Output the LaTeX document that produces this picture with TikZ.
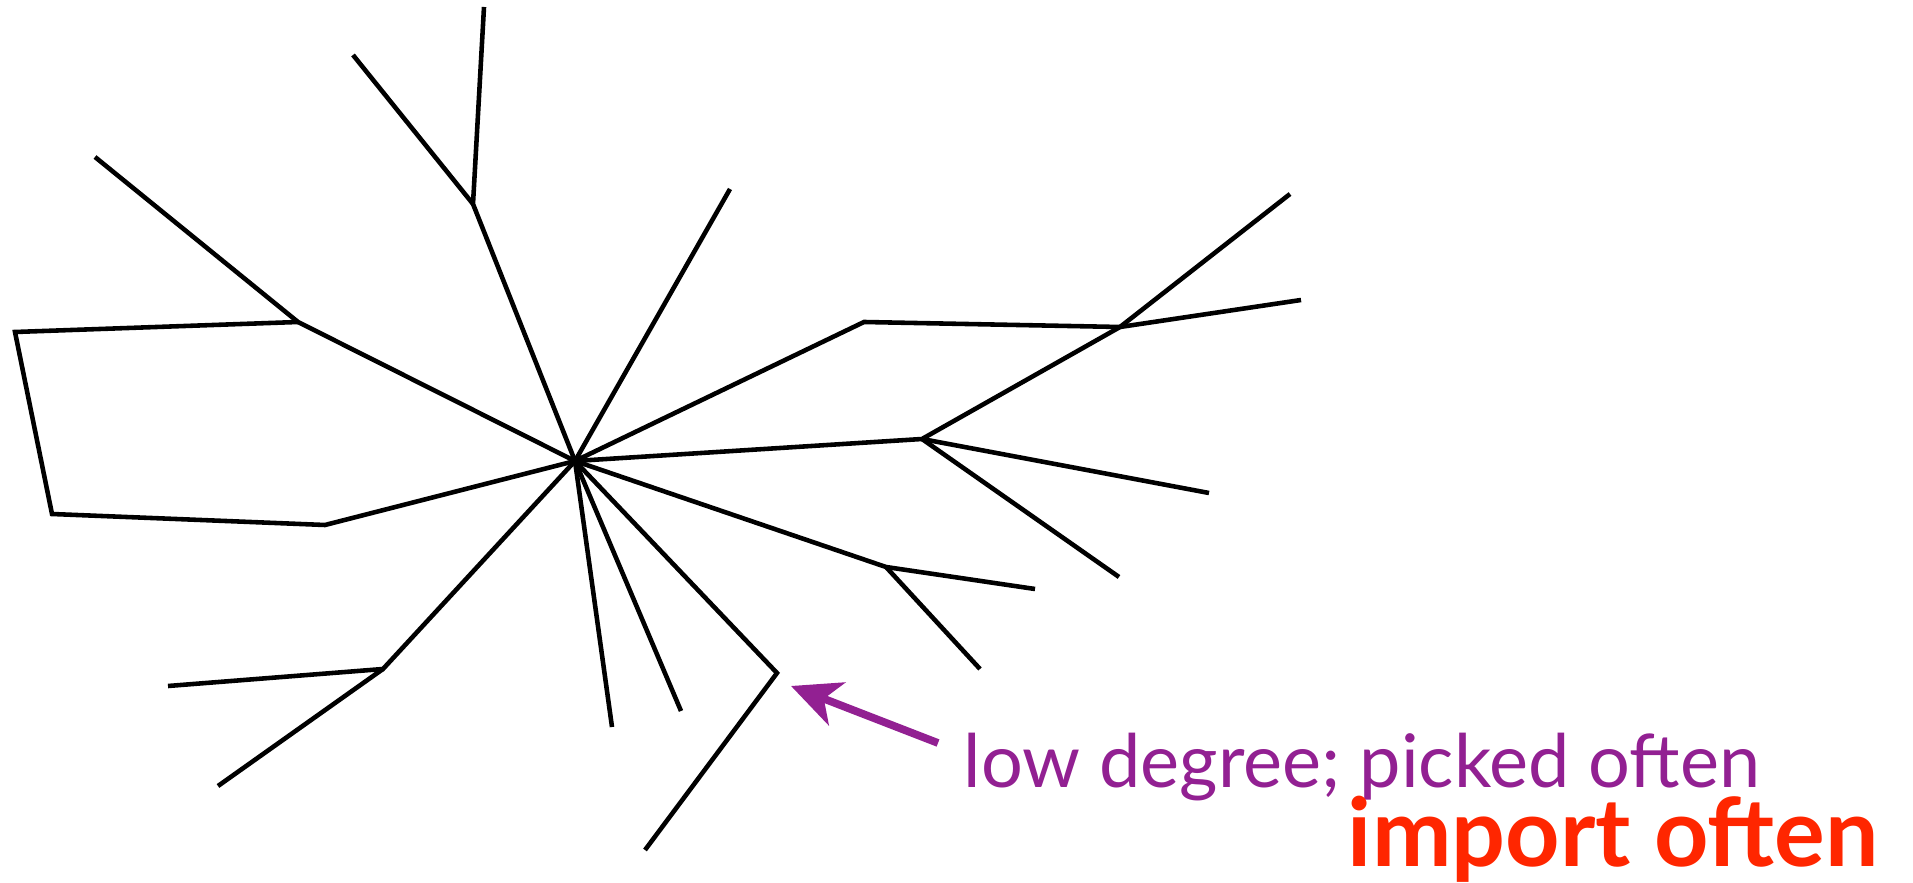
\documentclass[tikz,border=0pt]{standalone}
\usepackage{fontspec}
\usepackage{tikz}
\usetikzlibrary{arrows.meta,positioning}
\newfontfamily\lblfont{Lato}
\definecolor{pickpurple}{RGB}{146, 32,146}
\definecolor{importred} {RGB}{255, 38,  0}
\tikzset{
  edge/.style={draw=black,line width=1.3pt},
  arrp/.style={-{Stealth[length=14pt,width=13pt,inset=4pt]},line width=2.2pt,color=pickpurple},
  lowlbl/.style={anchor=base west,inner sep=0pt,font=\lblfont\fontsize{21}{24}\selectfont,text=pickpurple},
  implbl/.style={anchor=base east,inner sep=0pt,font=\lblfont\bfseries\fontsize{27}{30}\selectfont,text=importred},
}
\begin{document}
\begin{tikzpicture}[x=0.01cm,y=-0.01cm]
  \useasboundingbox (0,0) rectangle (1913,883);
  \coordinate (c)  at (575,461);
  \coordinate (j1) at (473,204);
  \coordinate (t1) at (484,7);
  \coordinate (t2) at (353,55);
  \coordinate (j2) at (298,322);
  \coordinate (l1) at (95,157);
  \coordinate (l2) at (15,332);
  \coordinate (l3) at (52,514);
  \coordinate (l4) at (325,525);
  \coordinate (u1) at (730,189);
  \coordinate (r0) at (864,322);
  \coordinate (j3) at (1120,327);
  \coordinate (r1) at (1290,194);
  \coordinate (r2) at (1301,300);
  \coordinate (j4) at (922,439);
  \coordinate (r3) at (1209,493);
  \coordinate (r4) at (1119,577);
  \coordinate (j5) at (886,567);
  \coordinate (r5) at (1035,589);
  \coordinate (r6) at (980,669);
  \coordinate (d1) at (612,727);
  \coordinate (d2) at (681,711);
  \coordinate (d3) at (777,673);
  \coordinate (d4) at (645,850);
  \coordinate (j6) at (383,669);
  \coordinate (b1) at (168,686);
  \coordinate (b2) at (218,786);

  \draw[edge] (c) -- (j1) -- (t1);
  \draw[edge] (j1) -- (t2);
  \draw[edge] (c) -- (j2) -- (l1);
  \draw[edge] (j2) -- (l2) -- (l3) -- (l4) -- (c);
  \draw[edge] (c) -- (u1);
  \draw[edge] (c) -- (r0) -- (j3) -- (r2);
  \draw[edge] (c) -- (j4) -- (j3) -- (r1);
  \draw[edge] (j4) -- (r3);
  \draw[edge] (j4) -- (r4);
  \draw[edge] (c) -- (j5) -- (r5);
  \draw[edge] (j5) -- (r6);
  \draw[edge] (c) -- (d1);
  \draw[edge] (c) -- (d2);
  \draw[edge] (c) -- (d3) -- (d4);
  \draw[edge] (c) -- (j6) -- (b1);
  \draw[edge] (j6) -- (b2);

  \node[lowlbl] (low) at (963,787) {low degree; picked often};
  \node[implbl] (imp) at (1879,866) {import often};
  \coordinate (arrs) at (938,743);
  \coordinate (arrt) at (791,686);
  \draw[arrp] (arrs) -- (arrt);
\end{tikzpicture}
\end{document}
